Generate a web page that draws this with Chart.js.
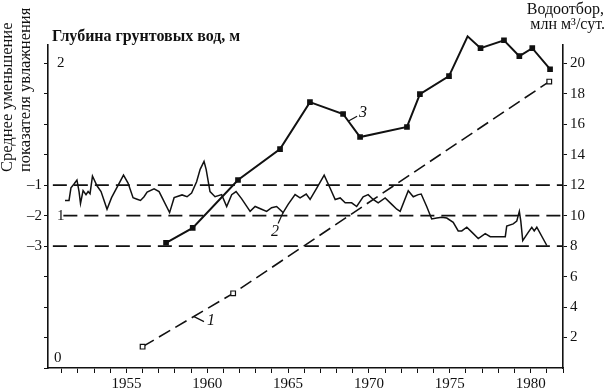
<!DOCTYPE html>
<html>
<head>
<meta charset="utf-8">
<script src="https://cdn.jsdelivr.net/npm/chart.js"></script>
<style>
  html, body { margin: 0; padding: 0; background: #fff; }
  canvas { display: block; }
</style>
</head>
<body>
<canvas id="chart" width="607" height="392"></canvas>
<script>
// curve 1 - groundwater depth, m
var depthYears = [1956.0, 1961.6, 1981.15];
var depthValues = [0.14, 0.49, 1.88];

// curve 3 - water withdrawal, mln m3/day
var withdrawalYears = [1957.45, 1959.1, 1961.9, 1964.5, 1966.35, 1968.4, 1969.45, 1972.35,
    1973.15, 1974.95, 1976.1, 1976.9, 1978.35, 1979.3, 1980.1, 1981.2];
var withdrawalValues = [8.22, 9.2, 12.34, 14.37, 17.45, 16.67, 15.16, 15.82,
    17.98, 19.16, 21.77, 20.99, 21.51, 20.47, 20.99, 19.61];

// curve 2 - mean decrease of the moisture index
var moistureYears = [1951.2, 1951.45, 1951.57, 1951.76, 1951.94, 1952.07, 1952.16, 1952.32, 1952.5, 1952.63,
    1952.75, 1952.9, 1953.18, 1953.43, 1953.8, 1954.08, 1954.82, 1955.1, 1955.41, 1955.66,
    1955.87, 1956.09, 1956.28, 1956.71, 1957.02, 1957.67, 1957.95, 1958.44, 1958.75, 1959.03,
    1959.34, 1959.56, 1959.8, 1959.93, 1960.17, 1960.48, 1960.89, 1961.2, 1961.51, 1961.78,
    1962.12, 1962.65, 1962.96, 1963.36, 1963.67, 1963.98, 1964.29, 1964.69, 1965.0, 1965.43,
    1965.74, 1966.12, 1966.36, 1966.77, 1967.23, 1967.6, 1967.91, 1968.22, 1968.53, 1968.93,
    1969.24, 1969.64, 1969.95, 1970.26, 1970.57, 1971.0, 1971.41, 1971.72, 1971.93, 1972.43,
    1972.74, 1973.05, 1973.23, 1973.57, 1973.88, 1974.19, 1974.5, 1974.81, 1975.21, 1975.52,
    1975.74, 1976.05, 1976.36, 1976.76, 1977.19, 1977.5, 1978.43, 1978.52, 1978.92, 1979.14,
    1979.3, 1979.39, 1979.51, 1979.85, 1980.07, 1980.22, 1980.38, 1981.0];
var moistureValues = [-1.5, -1.5, -1.09, -0.96, -0.83, -1.21, -1.6, -1.18, -1.31, -1.21,
    -1.28, -0.7, -1.02, -1.21, -1.79, -1.41, -0.67, -0.93, -1.41, -1.46,
    -1.5, -1.38, -1.23, -1.12, -1.21, -1.9, -1.41, -1.32, -1.38, -1.26,
    -0.89, -0.48, -0.22, -0.48, -1.21, -1.38, -1.31, -1.7, -1.31, -1.21,
    -1.44, -1.86, -1.7, -1.79, -1.86, -1.74, -1.7, -1.9, -1.63, -1.31,
    -1.42, -1.29, -1.47, -1.1, -0.67, -1.1, -1.47, -1.42, -1.58, -1.58,
    -1.7, -1.38, -1.31, -1.47, -1.58, -1.42, -1.63, -1.79, -1.86, -1.18,
    -1.38, -1.31, -1.29, -1.7, -2.11, -2.08, -2.05, -2.08, -2.22, -2.5,
    -2.5, -2.38, -2.54, -2.75, -2.59, -2.69, -2.69, -2.34, -2.27, -2.18,
    -1.86, -2.18, -2.82, -2.55, -2.38, -2.5, -2.38, -2.98];

// dashed reference levels of the moisture index
var refLevels = [-1, -2, -3];
var refStart = [1950.45, 1951.1, 1950.45];

// axis ticks
var yearTicks = [];
for (var yr = 1951; yr <= 1982; yr++) yearTicks.push(yr);
var yearLabels = [1955, 1960, 1965, 1970, 1975, 1980];
var withdrawalTicks = [2, 4, 6, 8, 10, 12, 14, 16, 18, 20];
var moistureTicks = [-7, -6, -5, -4, -3, -2, -1, 0, 1, 2, 3];
var moistureLabels = [-1, -2, -3];
var depthLabels = [0, 1, 2];

var serif = '"Liberation Serif", "Times New Roman", serif';
var ink = '#111';

function pairs(xs, ys) {
    return xs.map(function (x, i) { return { x: x, y: ys[i] }; });
}

var datasets = [];
refLevels.forEach(function (lvl, i) {
    datasets.push({
        data: [{ x: refStart[i], y: lvl }, { x: 1982, y: lvl }],
        yAxisID: 'yI',
        borderColor: ink,
        borderWidth: 1.6,
        borderDash: [14, 7],
        pointRadius: 0
    });
});
datasets.push({
    data: pairs(moistureYears, moistureValues),
    yAxisID: 'yI',
    borderColor: ink,
    borderWidth: 1.5,
    pointRadius: 0,
    tension: 0
});
datasets.push({
    data: pairs(depthYears, depthValues),
    yAxisID: 'yD',
    borderColor: ink,
    borderWidth: 1.6,
    borderDash: [13, 6],
    pointStyle: 'rect',
    pointRadius: 3.3,
    pointBackgroundColor: '#fff',
    pointBorderColor: ink,
    pointBorderWidth: 1.2
});
datasets.push({
    data: pairs(withdrawalYears, withdrawalValues),
    yAxisID: 'yR',
    borderColor: ink,
    borderWidth: 2,
    pointStyle: 'rect',
    pointRadius: 2.6,
    pointBackgroundColor: ink,
    pointBorderColor: ink,
    clip: false
});

// curve labels: anchor on the curve, leader end and text offset in px
var curveNotes = [
    { text: '1', axis: 'yD', x: 1959.18, y: 0.337, lx: 10, ly: 5, tx: 17, ty: 4 },
    { text: '2', axis: 'yI', x: 1964.69, y: -1.9, lx: -5, ly: 11, tx: -8, ty: 19 },
    { text: '3', axis: 'yR', x: 1968.71, y: 16.2, lx: 9, ly: -5, tx: 15, ty: -8 }
];

var textPlugin = {
    id: 'texts',
    afterDraw: function (chart) {
        var ctx = chart.ctx;
        var sx = chart.scales.x;
        ctx.save();
        ctx.fillStyle = ink;
        ctx.strokeStyle = ink;

        // depth scale labels inside the left axis
        ctx.font = '15px ' + serif;
        ctx.textAlign = 'left';
        ctx.textBaseline = 'middle';
        depthLabels.forEach(function (d) {
            var py = chart.scales.yD.getPixelForValue(d);
            if (d === 0) py -= 10;
            ctx.fillText(String(d), sx.left + (d === 0 ? 6 : 9), py);
        });

        // titles
        ctx.textBaseline = 'alphabetic';
        ctx.font = 'bold 16px ' + serif;
        ctx.fillText('Глубина грунтовых вод, м', 52, 41);
        ctx.font = '16px ' + serif;
        ctx.textAlign = 'right';
        ctx.fillText('Водоотбор,', 604, 14);
        ctx.fillText('млн м\u00b3/сут.', 605, 29);

        ctx.save();
        ctx.translate(0, 172);
        ctx.rotate(-Math.PI / 2);
        ctx.textAlign = 'left';
        ctx.font = '16.5px ' + serif;
        ctx.fillText('Среднее уменьшение', 0, 12);
        ctx.fillText('показателя увлажнения', 0, 30);
        ctx.restore();

        // curve numbers with leader lines
        ctx.font = 'italic 16px ' + serif;
        ctx.textAlign = 'center';
        ctx.textBaseline = 'middle';
        ctx.lineWidth = 1.2;
        curveNotes.forEach(function (n) {
            var px = sx.getPixelForValue(n.x);
            var py = chart.scales[n.axis].getPixelForValue(n.y);
            ctx.beginPath();
            ctx.moveTo(px, py);
            ctx.lineTo(px + n.lx, py + n.ly);
            ctx.stroke();
            ctx.fillText(n.text, px + n.tx, py + n.ty);
        });
        ctx.restore();
    }
};

var tickFont = { family: serif, size: 15 };

new Chart(document.getElementById('chart').getContext('2d'), {
    type: 'line',
    data: { datasets: datasets },
    options: {
        responsive: false,
        animation: false,
        events: [],
        layout: { padding: { top: 45, left: 0, right: 0, bottom: 0 } },
        plugins: { legend: { display: false }, tooltip: { enabled: false } },
        scales: {
            x: {
                type: 'linear',
                min: 1950.15,
                max: 1982,
                afterBuildTicks: function (s) {
                    s.ticks = yearTicks.map(function (v) { return { value: v }; });
                },
                afterFit: function (s) { s.height = 24; },
                ticks: {
                    autoSkip: false,
                    maxRotation: 0,
                    padding: 2,
                    color: ink,
                    font: tickFont,
                    callback: function (v) {
                        return yearLabels.indexOf(v) >= 0 ? String(v) : '';
                    }
                },
                grid: { drawOnChartArea: false, tickLength: 5, tickColor: ink, tickWidth: 1 },
                border: { color: ink, width: 1.6 }
            },
            yI: {
                type: 'linear',
                position: 'left',
                min: -7,
                max: 3.6,
                afterBuildTicks: function (s) {
                    s.ticks = moistureTicks.map(function (v) { return { value: v }; });
                },
                afterFit: function (s) { s.width = 48; },
                ticks: {
                    padding: 2,
                    color: ink,
                    font: tickFont,
                    callback: function (v) {
                        return moistureLabels.indexOf(v) >= 0 ? '\u2013' + Math.abs(v) : '';
                    }
                },
                grid: { drawOnChartArea: false, tickLength: 4, tickColor: ink, tickWidth: 1 },
                border: { color: ink, width: 1.6 }
            },
            yR: {
                type: 'linear',
                position: 'right',
                min: 0,
                max: 21.2,
                afterBuildTicks: function (s) {
                    s.ticks = withdrawalTicks.map(function (v) { return { value: v }; });
                },
                afterFit: function (s) { s.width = 44; },
                ticks: { padding: 3, color: ink, font: tickFont },
                grid: { drawOnChartArea: false, tickLength: 4, tickColor: ink, tickWidth: 1 },
                border: { color: ink, width: 1.6 }
            },
            yD: {
                type: 'linear',
                display: false,
                min: 0,
                max: 2.12
            }
        }
    },
    plugins: [textPlugin]
});
</script>
</body>
</html>
